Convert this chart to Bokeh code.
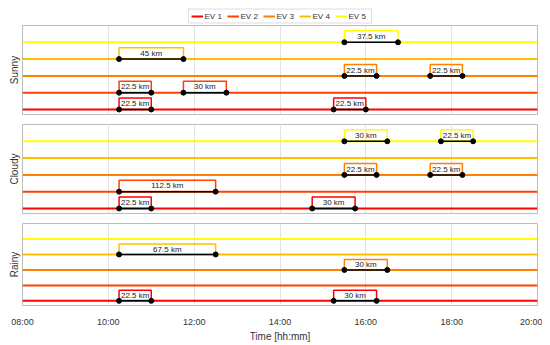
import math
from bokeh.plotting import figure
from bokeh.models import ColumnDataSource, FixedTicker, Legend, LegendItem
from bokeh.layouts import column
from bokeh.embed import file_html
from bokeh.resources import INLINE
from bokeh.core.properties import value

# ---------------- data ----------------
scenarios = ["Sunny", "Cloudy", "Rainy"]
ev_names = ["EV 1", "EV 2", "EV 3", "EV 4", "EV 5"]
ev_colors = ["#ff0000", "#ff4000", "#ff8000", "#ffbf00", "#ffff00"]
day_start = 8.0
day_end = 20.0
tick_hours = [8, 10, 12, 14, 16, 18, 20]
tick_labels = ["08:00", "10:00", "12:00", "14:00", "16:00", "18:00", "20:00"]

trip_scenario = ["Sunny"] * 8 + ["Cloudy"] * 7 + ["Rainy"] * 4
trip_ev = [4, 2, 2, 1, 5, 3, 3, 1,
           2, 1, 5, 5, 3, 3, 1,
           4, 1, 3, 1]
trip_start = ["10:15", "10:15", "11:45", "10:15", "15:30", "15:30", "17:30", "15:15",
              "10:15", "10:15", "15:30", "17:45", "15:30", "17:30", "14:45",
              "10:15", "10:15", "15:30", "15:15"]
trip_end = ["11:45", "11:00", "12:45", "11:00", "16:45", "16:15", "18:15", "16:00",
            "12:30", "11:00", "16:30", "18:30", "16:15", "18:15", "15:45",
            "12:30", "11:00", "16:30", "16:15"]
trip_km = [45, 22.5, 30, 22.5, 37.5, 22.5, 22.5, 22.5,
           112.5, 22.5, 30, 22.5, 22.5, 22.5, 30,
           67.5, 22.5, 30, 30]

# ---------------- style ----------------
FONT = "Liberation Sans"
TXT = "#333333"
BOX_H = 0.68
W = 542
FRAME_H = 89
LEFT = 22
RIGHT = 5


def hours(s):
    h, m = s.split(":")
    return int(h) + int(m) / 60.0


# legend strip (its own small figure above the panels)
leg_fig = figure(width=W, height=24, x_range=(0, 1), y_range=(0, 1),
                 output_backend="svg", toolbar_location=None,
                 min_border_left=LEFT, min_border_right=RIGHT,
                 min_border_top=8, min_border_bottom=0)
leg_fig.axis.visible = False
leg_fig.grid.visible = False
leg_fig.outline_line_color = None
leg_items = []
for name, col in zip(ev_names, ev_colors):
    r = leg_fig.line([math.nan, math.nan], [math.nan, math.nan], line_color=col, line_width=2)
    leg_items.append(LegendItem(label=name, renderers=[r]))
legend = Legend(items=leg_items, orientation="horizontal", location="center",
                label_text_font=FONT, label_text_font_size="8px",
                label_text_color=TXT, glyph_width=12, glyph_height=9,
                label_height=9, label_standoff=2, spacing=2,
                padding=2, margin=0, border_line_color="#bdbdbd",
                background_fill_alpha=1.0)
leg_fig.add_layout(legend, "center")

figs = [leg_fig]
for k, sc in enumerate(scenarios):
    first = k == 0
    last = k == len(scenarios) - 1
    top = 1 if first else 5
    bottom = 32 if last else 5
    p = figure(width=W, height=FRAME_H + top + bottom,
               x_range=(day_start, day_end), y_range=(0.7, 6.0),
               output_backend="svg", toolbar_location=None,
               min_border_left=LEFT, min_border_right=RIGHT,
               min_border_top=top, min_border_bottom=0 if last else bottom)
    p.background_fill_color = "white"
    p.border_fill_color = "white"
    p.outline_line_color = "#bdbdbd"
    p.outline_line_width = 1

    p.xgrid.ticker = FixedTicker(ticks=tick_hours)
    p.xgrid.grid_line_color = "#e3e3e3"
    p.ygrid.visible = False

    p.yaxis.ticker = FixedTicker(ticks=[])
    p.yaxis.axis_line_color = None
    p.yaxis.major_tick_line_color = None
    p.yaxis.minor_tick_line_color = None
    p.yaxis.axis_label = sc
    p.yaxis.axis_label_text_font = FONT
    p.yaxis.axis_label_text_font_size = "10px"
    p.yaxis.axis_label_text_font_style = "normal"
    p.yaxis.axis_label_text_color = TXT
    p.yaxis.axis_label_standoff = 3

    if not last:
        p.xaxis.visible = False
    else:
        p.xaxis.ticker = FixedTicker(ticks=tick_hours)
        p.xaxis.major_label_overrides = {h: l for h, l in zip(tick_hours, tick_labels)}
        p.xaxis.axis_line_color = None
        p.xaxis.major_tick_line_color = None
        p.xaxis.minor_tick_line_color = None
        p.xaxis.major_label_standoff = 5
        p.xaxis.major_label_text_font = FONT
        p.xaxis.major_label_text_font_size = "9px"
        p.xaxis.major_label_text_color = TXT
        p.xaxis.axis_label = "Time [hh:mm]"
        p.xaxis.axis_label_text_font = FONT
        p.xaxis.axis_label_text_font_size = "10px"
        p.xaxis.axis_label_text_font_style = "normal"
        p.xaxis.axis_label_text_color = TXT
        p.xaxis.axis_label_standoff = 1

    # EV baselines
    for i, col in enumerate(ev_colors):
        p.line([day_start, day_end], [i + 1, i + 1], line_color=col, line_width=2)

    # trips of this scenario
    idx = [j for j, s in enumerate(trip_scenario) if s == sc]
    xs, ys, cols, x0, x1, yb, xm, ym, lab = [], [], [], [], [], [], [], [], []
    for j in idx:
        a = hours(trip_start[j])
        b = hours(trip_end[j])
        y = trip_ev[j]
        xs.append([a, a, b, b])
        ys.append([y, y + BOX_H, y + BOX_H, y])
        cols.append(ev_colors[y - 1])
        x0.append(a)
        x1.append(b)
        yb.append(y)
        xm.append((a + b) / 2)
        ym.append(y + BOX_H / 2)
        lab.append(f"{trip_km[j]:g} km")
    src = ColumnDataSource(dict(xs=xs, ys=ys, c=cols, x0=x0, x1=x1, y=yb,
                                xm=xm, ym=ym, lab=lab))
    p.multi_line("xs", "ys", line_color="c", line_width=1.5, source=src)
    p.segment("x0", "y", "x1", "y", line_color="black", line_width=1.5, source=src)
    p.scatter("x0", "y", size=5, color="black", source=src)
    p.scatter("x1", "y", size=5, color="black", source=src)
    p.text("xm", "ym", text="lab", source=src, text_font=value(FONT),
           text_font_size="8px", text_align="center", text_baseline="middle",
           text_color="#222222")
    figs.append(p)

layout = column(*figs, spacing=0)
open("out.html", "w").write(file_html(layout, INLINE))
